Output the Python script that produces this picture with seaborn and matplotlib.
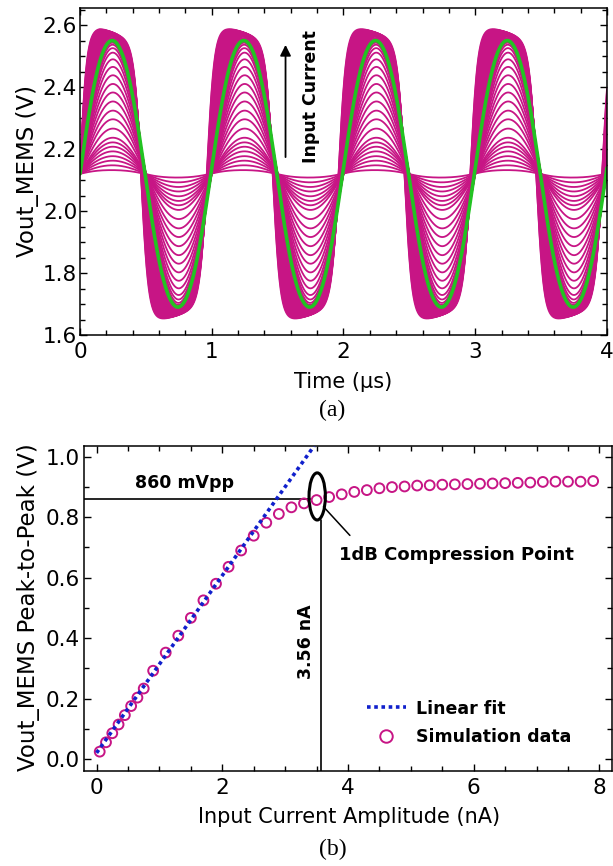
import numpy as np
import pandas as pd
import matplotlib
matplotlib.use("Agg")
import matplotlib.pyplot as plt
import seaborn as sns
from matplotlib.patches import Ellipse
from matplotlib.lines import Line2D
from matplotlib.ticker import MultipleLocator, FormatStrFormatter

# ---------------- data ----------------
input_current_nA = [0.05, 0.15, 0.25, 0.35, 0.45, 0.55, 0.65, 0.75,
                    0.9, 1.1, 1.3, 1.5, 1.7, 1.9, 2.1, 2.3, 2.5, 2.7, 2.9, 3.1,
                    3.3, 3.5, 3.7, 3.9, 4.1, 4.3, 4.5, 4.7, 4.9, 5.1, 5.3, 5.5,
                    5.7, 5.9, 6.1, 6.3, 6.5, 6.7, 6.9, 7.1, 7.3, 7.5, 7.7, 7.9]
vout_pp_V = [0.024, 0.055, 0.085, 0.114, 0.145, 0.175, 0.203, 0.233,
             0.292, 0.352, 0.408, 0.467, 0.525, 0.580, 0.636, 0.690, 0.739, 0.782,
             0.811, 0.833, 0.846, 0.857, 0.867, 0.876, 0.884, 0.890, 0.896, 0.900,
             0.902, 0.905, 0.906, 0.908, 0.909, 0.910, 0.911, 0.912, 0.913, 0.914,
             0.915, 0.917, 0.918, 0.918, 0.918, 0.920]
fit_current_nA = [0.0, 3.46]
fit_vpp_V = [0.02, 1.036]
compression_current_nA = 3.56
compression_vpp_V = 0.86
vout_dc_V = 2.12
period_us = 1.0
time_span_us = [0.0, 4.0]

MAG = "#C71585"
GREEN = "#22C322"
BLUE = "#1020CC"

sns.set_style("ticks")
plt.rcParams["font.family"] = ["DejaVu Sans"]
plt.rcParams["axes.linewidth"] = 1.1
for key in ["text.color", "axes.labelcolor", "xtick.color", "ytick.color", "axes.edgecolor"]:
    plt.rcParams[key] = "black"

fig = plt.figure(figsize=(6.13, 8.66), dpi=100)
ax1 = fig.add_axes([80 / 613, 1 - 335 / 866, 527 / 613, 327 / 866])
ax2 = fig.add_axes([84 / 613, 1 - 771 / 866, 528 / 613, 325 / 866])

# ---------------- (a) transient waveforms ----------------
t = np.linspace(time_span_us[0], time_span_us[1], 2401)
slope = (fit_vpp_V[1] - fit_vpp_V[0]) / (fit_current_nA[1] - fit_current_nA[0])


def waveform(current, vpp):
    linear = fit_vpp_V[0] + slope * current
    comp = max(linear / vpp - 1.0, 0.0)
    sharp = 0.05 + 1.8 * comp
    sat = min(comp / 1.5, 1.0)
    ramp = np.clip(t / 0.15, 0, 1)
    ph = 2 * np.pi * (t / period_us + 0.035 * sat * np.clip(t / 0.3, 0, 1))
    s = np.tanh(sharp * np.sin(ph)) / np.tanh(sharp)
    s = s + 0.045 * sat * np.cos(ph) * ramp
    return vout_dc_V + vpp / 2 * s


frames = []
for i, (cur, vpp) in enumerate(zip(input_current_nA, vout_pp_V)):
    frames.append(pd.DataFrame({"time_us": t, "vout_V": waveform(cur, vpp), "curve": i}))
df_wave = pd.concat(frames, ignore_index=True)

sns.lineplot(data=df_wave, x="time_us", y="vout_V", units="curve", estimator=None,
             color=MAG, lw=1.3, ax=ax1, legend=False, sort=False)
df_green = pd.DataFrame({"time_us": t, "vout_V": waveform(compression_current_nA, compression_vpp_V)})
sns.lineplot(data=df_green, x="time_us", y="vout_V", estimator=None, color=GREEN,
             lw=2.6, ax=ax1, sort=False)

ax1.set_xlim(0, 4)
ax1.set_ylim(1.6, 2.655)
ax1.xaxis.set_major_locator(MultipleLocator(1))
ax1.xaxis.set_minor_locator(MultipleLocator(0.2))
ax1.yaxis.set_major_locator(MultipleLocator(0.2))
ax1.yaxis.set_minor_locator(MultipleLocator(0.05))
ax1.yaxis.set_major_formatter(FormatStrFormatter("%.1f"))
ax1.tick_params(which="both", direction="in", top=True, right=True, width=1, labelsize=15.5)
ax1.tick_params(which="major", length=5)
ax1.tick_params(which="minor", length=3.5)
ax1.tick_params(axis="y", pad=2)
ax1.tick_params(axis="x", pad=5)
ax1.set_xlabel("Time (\u00b5s)", fontsize=15, va="center")
ax1.set_ylabel("Vout_MEMS (V)", fontsize=16.5, va="center")
ax1.xaxis.set_label_coords(0.5, -0.144)
ax1.yaxis.set_label_coords(-0.099, 0.5)

ax1.annotate("", xy=(1.56, 2.545), xytext=(1.56, 2.165),
             arrowprops=dict(arrowstyle="-|>", lw=1.3, color="k", mutation_scale=16))
ax1.text(1.75, 2.37, "Input Current", rotation=90, fontsize=12.5, fontweight="bold",
         ha="center", va="center")

# ---------------- (b) peak-to-peak vs input ----------------
sns.scatterplot(x=input_current_nA, y=vout_pp_V, marker="o", s=50, facecolor="none",
                edgecolor=MAG, linewidth=1.4, ax=ax2, zorder=3, legend=False)
sns.lineplot(x=fit_current_nA, y=fit_vpp_V, color=BLUE, lw=2.6, ax=ax2,
             linestyle=(0, (1, 1)), zorder=4, estimator=None, sort=False)

xl = (-0.2, 8.2)
yl = (-0.04, 1.036)
ax2.set_xlim(*xl)
ax2.set_ylim(*yl)

ax2.plot([xl[0], 3.40], [compression_vpp_V, compression_vpp_V], color="k", lw=1.2, zorder=2)
ax2.plot([3.57, 3.57], [yl[0], 0.79], color="k", lw=1.2, zorder=2)
ax2.add_patch(Ellipse((3.51, 0.869), 0.26, 0.156, fill=False, lw=2.2, ec="k", zorder=5))
ax2.plot([3.61, 4.03], [0.835, 0.74], color="k", lw=1.1, zorder=5)
ax2.text(1.40, 0.915, "860 mVpp", fontsize=12.5, fontweight="bold", ha="center", va="center")
ax2.text(5.72, 0.675, "1dB Compression Point", fontsize=13, fontweight="bold",
         ha="center", va="center")
ax2.text(3.33, 0.387, "3.56 nA", rotation=90, fontsize=12.5, fontweight="bold",
         ha="center", va="center")

ax2.xaxis.set_major_locator(MultipleLocator(2))
ax2.xaxis.set_minor_locator(MultipleLocator(0.5))
ax2.yaxis.set_major_locator(MultipleLocator(0.2))
ax2.yaxis.set_minor_locator(MultipleLocator(0.1))
ax2.yaxis.set_major_formatter(FormatStrFormatter("%.1f"))
ax2.tick_params(which="both", direction="in", top=True, right=True, width=1, labelsize=15.5)
ax2.tick_params(which="major", length=5)
ax2.tick_params(which="minor", length=3.5)
ax2.tick_params(axis="y", pad=3)
ax2.tick_params(axis="x", pad=5)
ax2.set_xlabel("Input Current Amplitude (nA)", fontsize=15, va="center")
ax2.set_ylabel("Vout_MEMS Peak-to-Peak (V)", fontsize=16.5, va="center")
ax2.xaxis.set_label_coords(0.502, -0.1415)
ax2.yaxis.set_label_coords(-0.106, 0.505)

h_fit = Line2D([], [], color=BLUE, lw=2.6, linestyle=(0, (1, 1)))
h_sim = Line2D([], [], color=MAG, marker="o", markerfacecolor="none", markeredgewidth=1.4,
               markersize=9, linestyle="none")
ax2.legend([h_fit, h_sim], ["Linear fit", "Simulation data"], loc="upper left",
           bbox_to_anchor=(0.506, 0.268), frameon=False, prop=dict(weight="bold", size=12.5),
           handlelength=2.25, handletextpad=0.6, labelspacing=0.6, borderpad=0.4)

fig.text(332 / 613, 1 - 410 / 866, "(a)", family=["Liberation Serif", "DejaVu Serif"],
         fontsize=17, ha="center", va="center")
fig.text(333 / 613, 1 - 849 / 866, "(b)", family=["Liberation Serif", "DejaVu Serif"],
         fontsize=17, ha="center", va="center")

fig.savefig("out.png", dpi=100)
